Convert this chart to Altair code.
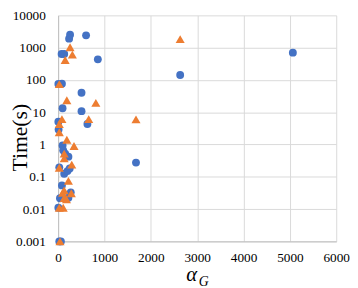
import altair as alt
import pandas as pd

# Series A (blue circles)
blue_x = [258, 237, 603, 75, 131, 857, 2633, 5064, 82, 5, 505, 96, 505, 5, 632, 10,
          96, 110, 152, 222, 25, 131, 201, 250, 1680, 82, 272, 222, 40, 5, 25, 60]
blue_y = [2500, 1900, 2400, 635, 635, 434, 142, 700, 76, 75, 40, 13.3, 10.8, 5.1, 4.3, 2.9,
          0.93, 0.66, 0.52, 0.42, 0.196, 0.124, 0.15, 0.18, 0.276, 0.054, 0.033, 0.0225,
          0.0216, 0.011, 0.001, 0.001]

# Series B (orange triangles)
orange_x = [258, 307, 152, 2633, 25, 188, 814, 82, 660, 1680, 25, 25, 188, 343, 131, 131,
            294, 25, 222, 131, 96, 285, 131, 180, 25, 110, 40]
orange_y = [1030, 610, 415, 1830, 74, 23.5, 19.5, 6.1, 6.1, 6.0, 4.3, 2.4, 1.4, 0.9, 0.52,
            0.37, 0.237, 0.19, 0.075, 0.038, 0.032, 0.031, 0.022, 0.020, 0.011, 0.011, 0.001]

x_ticks = [0, 1000, 2000, 3000, 4000, 5000, 6000]
y_ticks = [0.001, 0.01, 0.1, 1, 10, 100, 1000, 10000]

FONT = "Liberation Serif"

df_b = pd.DataFrame({"alpha": blue_x, "time": blue_y})
df_o = pd.DataFrame({"alpha": orange_x, "time": orange_y})
df_sub = pd.DataFrame({"t": ["G"]})

xs = alt.Scale(domain=[0, 6000], nice=False)
ys = alt.Scale(type="log", domain=[0.001, 10000], nice=False)

x_axis = alt.Axis(
    values=x_ticks, format="d", title="α",
    titleFont=FONT, titleFontStyle="italic", titleFontSize=21, titleFontWeight="normal",
    titleColor="#000", titleX=135.5, titleY=40, titleAlign="center", titleBaseline="alphabetic",
    labelFont=FONT, labelFontSize=13.5, labelColor="#000", labelPadding=9, labelFlush=False,
    ticks=False, tickSize=0, grid=True, gridColor="#D9D9D9", domainColor="#BFBFBF",
)
y_axis = alt.Axis(
    values=y_ticks, format="~g", title="Time(s)",
    titleFont=FONT, titleFontSize=22, titleFontWeight="normal", titleColor="#000",
    titleX=-39, titleY=124, titleAlign="center", titleBaseline="middle", titleAngle=270,
    labelFont=FONT, labelFontSize=13.5, labelColor="#000", labelPadding=13, labelFlush=False,
    ticks=False, tickSize=0, grid=True, gridColor="#D9D9D9", domainColor="#BFBFBF",
)

blue = alt.Chart(df_b).mark_point(
    shape="circle", filled=True, size=64, color="#4472C4", opacity=1
).encode(
    x=alt.X("alpha:Q", scale=xs, axis=x_axis),
    y=alt.Y("time:Q", scale=ys, axis=y_axis),
)

orange = alt.Chart(df_o).mark_point(
    shape="triangle-up", filled=True, size=85, color="#ED7D31", opacity=1
).encode(
    x=alt.X("alpha:Q", scale=xs),
    y=alt.Y("time:Q", scale=ys),
)

sub = alt.Chart(df_sub).mark_text(
    font=FONT, fontStyle="italic", fontSize=14, align="left", baseline="alphabetic", color="#000"
).encode(
    text="t:N", x=alt.value(143), y=alt.value(275)
)

chart = alt.layer(blue, orange, sub).properties(
    width=283, height=230,
    autosize=alt.AutoSizeParams(type="none"),
    padding={"left": 51, "top": 5, "right": 14, "bottom": 47},
).configure_view(stroke=None)

chart.save("out.html", embed_options={"renderer": "svg", "actions": False})
